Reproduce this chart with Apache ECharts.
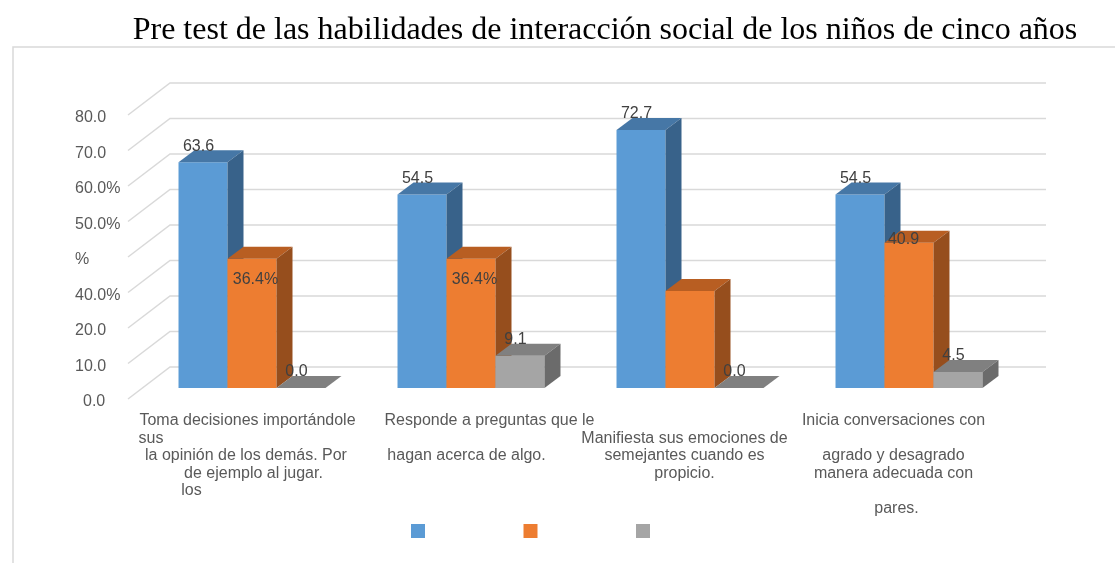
<!DOCTYPE html>
<html>
<head>
<meta charset="utf-8">
<script src="https://cdn.jsdelivr.net/npm/echarts@6/dist/echarts.min.js"></script>
<style>
  html, body { margin: 0; padding: 0; background: #fff; }
  #chart { width: 1115px; height: 563px; }
</style>
</head>
<body>
<div id="chart"></div>
<script>
// categorias (cada etiqueta partida en lineas como en el original)
const categoryLines = [
  ['Toma decisiones importándole', 'sus', 'la opinión de los demás. Por', 'de ejemplo al jugar.', 'los'],
  ['Responde a preguntas que le', '', 'hagan acerca de algo.'],
  ['', 'Manifiesta sus emociones de', 'semejantes cuando es', 'propicio.'],
  ['Inicia conversaciones con', '', 'agrado y desagrado', 'manera adecuada con', '', 'pares.']
];
const categories = categoryLines.map(l => l.filter(Boolean).join(' '));

// valores por serie (%)
const blueValues = [63.6, 54.5, 72.7, 54.5];
const orangeValues = [36.4, 36.4, 27.3, 40.9];
const grayValues = [0.0, 9.1, 0.0, 4.5];

// etiquetas de datos tal como aparecen
const blueLabels = ['63.6', '54.5', '72.7', '54.5'];
const orangeLabels = ['36.4%', '36.4%', '', '40.9'];
const grayLabels = ['0.0', '9.1', '0.0', '4.5'];

// eje y
const yTicks = [0, 10, 20, 30, 40, 50, 60, 70, 80];
const yTickLabels = ['0.0', '10.0', '20.0', '40.0%', '%', '50.0%', '60.0%', '70.0', '80.0'];

const FONT = 'Liberation Sans, Arial, sans-serif';
const FS = 16;

// desplazamientos de perspectiva
const WALL_DX = 42, WALL_DY = -32;   // frente -> pared del fondo
const BAR_OX = 14.5, BAR_OY = -11;   // frente -> cara frontal de las barras
const BAR_DX = 16, BAR_DY = -12;     // profundidad de cada barra
const BAR_RATIO = 0.2237;            // ancho de barra / ancho de categoria

// desplazamiento horizontal de cada linea de etiqueta (estilo)
const lineShift = [[10, -86.5, 8.5, 16, -46], [33, 0, 10], [9, 9, 9, 9], [-1, 0, -1, -1, 0, 2]];

const seriesDefs = [
  { name: ' ', values: blueValues, labels: blueLabels, front: '#5B9BD5', top: '#4677A6', side: '#38628A' },
  { name: '  ', values: orangeValues, labels: orangeLabels, front: '#ED7D31', top: '#B85E22', side: '#964E1D' },
  { name: '   ', values: grayValues, labels: grayLabels, front: '#A5A5A5', top: '#808080', side: '#6B6B6B' }
];

const rich = {};
categoryLines.forEach((lines, c) => {
  lines.forEach((t, j) => {
    const d = lineShift[c][j] || 0;
    rich['c' + c + 'l' + j] = {
      fontSize: FS, fontFamily: FONT, color: '#595959', lineHeight: 17.5,
      padding: d > 0 ? [0, 0, 0, 2 * d] : [0, -2 * d, 0, 0]
    };
  });
});

const chart = echarts.init(document.getElementById('chart'));

const gridSeries = {
  type: 'custom',
  silent: true,
  z: 1,
  clip: false,
  legendHoverLink: false,
  data: yTicks.map(v => [0, v]),
  renderItem: (params, api) => {
    const v = api.value(1);
    const band = api.size([1, 0])[0];
    const p = api.coord([0, v]);
    const left = p[0] - band / 2;
    const right = api.coord([categories.length - 1, v])[0] + band / 2;
    return {
      type: 'polyline',
      shape: { points: [[left, p[1]], [left + WALL_DX, p[1] + WALL_DY], [right + WALL_DX, p[1] + WALL_DY]] },
      style: { stroke: '#D9D9D9', lineWidth: 1.5, fill: null }
    };
  }
};

const barSeries = seriesDefs.map((s, si) => ({
  type: 'custom',
  name: s.name,
  z: 2 + si,
  clip: false,
  itemStyle: { color: s.front },
  data: s.values.map((v, c) => [c, v]),
  renderItem: (params, api) => {
    const c = api.value(0);
    const v = api.value(1);
    const band = api.size([1, 0])[0];
    const bw = band * BAR_RATIO;
    const base = api.coord([c, 0]);
    const tip = api.coord([c, v]);
    const x0 = base[0] - 1.5 * bw + si * bw + BAR_OX;
    const yb = base[1] + BAR_OY;
    const yt = tip[1] + BAR_OY;
    const children = [
      { type: 'rect', shape: { x: x0, y: yt, width: bw, height: yb - yt }, style: { fill: s.front } },
      { type: 'polygon', shape: { points: [[x0, yt], [x0 + bw, yt], [x0 + bw + BAR_DX, yt + BAR_DY], [x0 + BAR_DX, yt + BAR_DY]] }, style: { fill: s.top } },
      { type: 'polygon', shape: { points: [[x0 + bw, yt], [x0 + bw + BAR_DX, yt + BAR_DY], [x0 + bw + BAR_DX, yb + BAR_DY], [x0 + bw, yb]] }, style: { fill: s.side } }
    ];
    const txt = s.labels[c];
    if (txt) {
      let lx = x0 + 20, ly = yt + BAR_DY - 4;
      if (txt.endsWith('%')) { lx = x0 + 28; ly = yt + 21; }
      if (si === 1 && c === 3) { lx = x0 + 19; ly = yt - 3; }
      children.push({
        type: 'text', z2: 10,
        style: { text: txt, x: lx, y: ly, align: 'center', verticalAlign: 'middle', fontSize: FS, fontFamily: FONT, fill: '#404040' }
      });
    }
    return { type: 'group', children };
  }
}));

chart.setOption({
  backgroundColor: '#ffffff',
  animation: false,
  title: {
    text: 'Pre test de las habilidades de interacción social de los niños de cinco años',
    left: 600,
    top: 10,
    textAlign: 'center',
    textStyle: { fontFamily: 'Liberation Serif, Times New Roman, serif', fontSize: 32, fontWeight: 'normal', color: '#000' }
  },
  graphic: [{
    type: 'rect', silent: true, z: -10,
    shape: { x: 13, y: 47, width: 1200, height: 600 },
    style: { fill: 'none', stroke: '#D9D9D9', lineWidth: 1.5 }
  }],
  legend: {
    data: seriesDefs.map(s => s.name),
    left: 406,
    top: 519,
    icon: 'rect',
    itemWidth: 14,
    itemHeight: 14,
    itemGap: 98.5,
    formatter: () => '',
    selectedMode: false
  },
  grid: { left: 128, right: 111, top: 115, bottom: 164 },
  xAxis: {
    type: 'category',
    data: categories,
    axisLine: { show: false },
    axisTick: { show: false },
    axisLabel: {
      interval: 0,
      margin: 13,
      rich,
      formatter: (value, index) => categoryLines[index]
        .map((t, j) => '{c' + index + 'l' + j + '|' + (t || '\u00a0') + '}')
        .join('\n')
    }
  },
  yAxis: {
    type: 'value',
    min: 0,
    max: 80,
    interval: 10,
    splitLine: { show: false },
    axisLine: { show: false },
    axisTick: { show: false },
    axisLabel: {
      align: 'left',
      margin: 53,
      padding: [6, 0, 0, 0],
      fontSize: FS,
      fontFamily: FONT,
      color: '#595959',
      rich: { z: { fontSize: FS, fontFamily: FONT, color: '#595959', padding: [0, 0, 0, 8] } },
      formatter: (v) => {
        const t = yTickLabels[yTicks.indexOf(v)];
        return v === 0 ? '{z|' + t + '}' : t;
      }
    }
  },
  series: [gridSeries, ...barSeries]
});
</script>
</body>
</html>
